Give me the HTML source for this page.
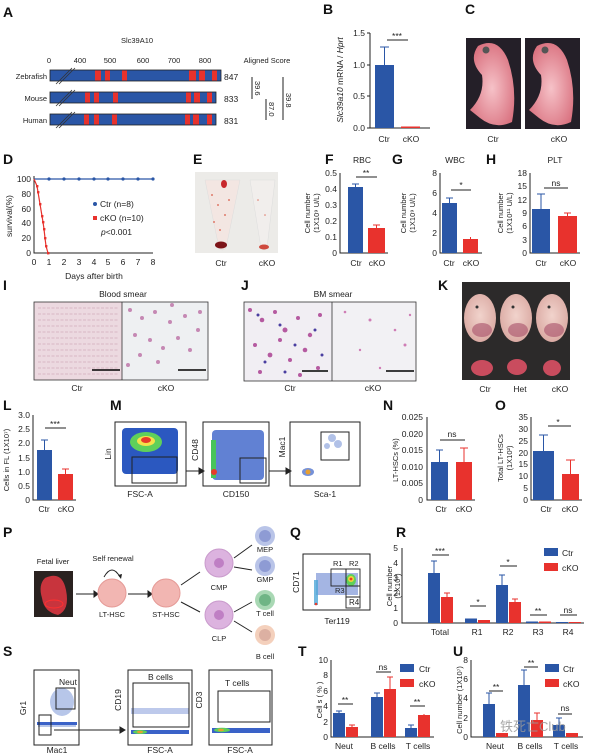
<!DOCTYPE html>
<html><head><meta charset="utf-8"><style>
html,body{margin:0;padding:0;background:#fff}
svg{display:block}
text{font-family:"Liberation Sans","Noto Sans CJK SC",sans-serif;fill:#222}
.L{font-size:14px;font-weight:bold;fill:#111}
.t{font-size:7.5px}
.s{font-size:8.5px}
.b{fill:#2a56a6}.r{fill:#e8322d}
.ax{stroke:#222;stroke-width:1;fill:none}
.eb{stroke:#2a56a6;stroke-width:1}.er{stroke:#e8322d;stroke-width:1}
</style></head><body>
<svg width="600" height="755" viewBox="0 0 600 755" xmlns="http://www.w3.org/2000/svg">
<defs>
<radialGradient id="pk" cx="50%" cy="55%" r="60%"><stop offset="0" stop-color="#f6c2c8"/><stop offset="1" stop-color="#d9707e"/></radialGradient>
<radialGradient id="emb" cx="50%" cy="45%" r="60%"><stop offset="0" stop-color="#f1d3cc"/><stop offset="1" stop-color="#d9a7a0"/></radialGradient>
</defs>

<!-- A -->
<text class="L" x="3" y="17">A</text>
<text class="t" x="137" y="43" text-anchor="middle">Slc39A10</text>
<g class="t" text-anchor="middle"><text x="49" y="63">0</text><text x="80" y="63">400</text><text x="110" y="63">500</text><text x="143" y="63">600</text><text x="174" y="63">700</text><text x="205" y="63">800</text></g>
<text class="t" x="267" y="63" text-anchor="middle">Aligned Score</text>
<g stroke="#222" stroke-width="0.8">
<rect class="b" x="50" y="70" width="171" height="11"/>
<rect class="b" x="50" y="92" width="166" height="11"/>
<rect class="b" x="50" y="114" width="166" height="11"/>
</g>
<g class="r">
<rect x="95" y="70.5" width="6" height="10"/><rect x="105" y="70.5" width="5" height="10"/><rect x="122" y="70.5" width="5" height="10"/><rect x="189" y="70.5" width="7" height="10"/><rect x="199" y="70.5" width="6" height="10"/><rect x="212" y="70.5" width="5" height="10"/>
<rect x="85" y="92.5" width="5" height="10"/><rect x="94" y="92.5" width="5" height="10"/><rect x="113" y="92.5" width="5" height="10"/><rect x="186" y="92.5" width="5" height="10"/><rect x="194" y="92.5" width="6" height="10"/><rect x="207" y="92.5" width="5" height="10"/>
<rect x="84" y="114.5" width="5" height="10"/><rect x="94" y="114.5" width="5" height="10"/><rect x="112" y="114.5" width="5" height="10"/><rect x="185" y="114.5" width="5" height="10"/><rect x="193" y="114.5" width="6" height="10"/><rect x="207" y="114.5" width="5" height="10"/>
</g>
<g stroke="#333" stroke-width="0.8"><line x1="56" y1="84" x2="72" y2="68"/><line x1="59" y1="84" x2="75" y2="68"/><line x1="56" y1="106" x2="72" y2="90"/><line x1="59" y1="106" x2="75" y2="90"/><line x1="56" y1="128" x2="72" y2="112"/><line x1="59" y1="128" x2="75" y2="112"/></g>
<g class="t" text-anchor="end"><text x="47" y="79">Zebrafish</text><text x="47" y="101">Mouse</text><text x="47" y="123">Human</text></g>
<g class="s"><text x="224" y="80">847</text><text x="224" y="102">833</text><text x="224" y="124">831</text></g>
<g stroke="#222" stroke-width="1"><line x1="252" y1="77" x2="252" y2="99"/><line x1="266" y1="99" x2="266" y2="120"/><line x1="283" y1="77" x2="283" y2="120"/></g>
<g class="t"><text transform="translate(255,81) rotate(90)">39.6</text><text transform="translate(269,102) rotate(90)">87.0</text><text transform="translate(286,93) rotate(90)">39.8</text></g>

<!-- B -->
<text class="L" x="323" y="14">B</text>
<path class="ax" d="M370,33 V128 H430"/>
<g class="ax"><line x1="367" y1="33" x2="370" y2="33"/><line x1="367" y1="65" x2="370" y2="65"/><line x1="367" y1="96" x2="370" y2="96"/><line x1="367" y1="128" x2="370" y2="128"/></g>
<g class="s" text-anchor="end"><text x="365" y="36">1.5</text><text x="365" y="68">1.0</text><text x="365" y="99">0.5</text><text x="365" y="131">0.0</text></g>
<rect class="b" x="375" y="65" width="19" height="63"/>
<line class="eb" x1="384.5" y1="65" x2="384.5" y2="47"/><line class="eb" x1="380" y1="47" x2="389" y2="47"/>
<rect class="r" x="401" y="126.5" width="19" height="1.5"/>
<line class="ax" x1="387" y1="40" x2="408" y2="40"/><text class="s" x="397" y="39" text-anchor="middle">***</text>
<g class="s" text-anchor="middle"><text x="384" y="142">Ctr</text><text x="411" y="142">cKO</text></g>
<text class="s" transform="translate(343,80) rotate(-90)" text-anchor="middle"><tspan font-style="italic">Slc39a10</tspan> mRNA / <tspan font-style="italic">Hprt</tspan></text>

<!-- C -->
<text class="L" x="465" y="14">C</text>
<rect x="466" y="38" width="55" height="91" fill="#241f28"/>
<rect x="525" y="38" width="55" height="91" fill="#241f28"/>
<path d="M478,46 Q498,36 508,60 Q518,90 512,122 Q495,130 480,118 L470,110 Q485,95 482,75 Q468,60 478,46Z" fill="url(#pk)"/>
<path d="M537,46 Q557,36 567,60 Q577,90 571,122 Q554,130 539,118 L529,110 Q544,95 541,75 Q527,60 537,46Z" fill="url(#pk)"/>
<circle cx="486" cy="50" r="3.5" fill="#555"/><circle cx="545" cy="50" r="3.5" fill="#555"/>
<g class="s" text-anchor="middle"><text x="493" y="142">Ctr</text><text x="559" y="142">cKO</text></g>

<!-- D -->
<text class="L" x="3" y="164">D</text>
<path class="ax" d="M34,176 V253 H153"/>
<g class="s" text-anchor="end"><text x="31" y="182">100</text><text x="31" y="197">80</text><text x="31" y="212">60</text><text x="31" y="226">40</text><text x="31" y="241">20</text><text x="31" y="256">0</text></g>
<g class="s" text-anchor="middle"><text x="34" y="265">0</text><text x="49" y="265">1</text><text x="64" y="265">2</text><text x="79" y="265">3</text><text x="94" y="265">4</text><text x="108" y="265">5</text><text x="123" y="265">6</text><text x="138" y="265">7</text><text x="153" y="265">8</text></g>
<text class="s" x="94" y="279" text-anchor="middle">Days after birth</text>
<text class="s" transform="translate(12,216) rotate(-90)" text-anchor="middle">survival(%)</text>
<polyline points="34,179 153,179" stroke="#2a56a6" stroke-width="1.2" fill="none"/>
<g class="b"><circle cx="49" cy="179" r="1.6"/><circle cx="64" cy="179" r="1.6"/><circle cx="79" cy="179" r="1.6"/><circle cx="94" cy="179" r="1.6"/><circle cx="108" cy="179" r="1.6"/><circle cx="123" cy="179" r="1.6"/><circle cx="138" cy="179" r="1.6"/><circle cx="153" cy="179" r="1.6"/></g>
<polyline points="34,179 37,186 38,192 40,204 42,216 43,222 44,229 45,238 46,246 48,253 49,253" stroke="#e8322d" stroke-width="1.2" fill="none"/>
<g class="r"><rect x="36" y="185" width="2.4" height="2.4"/><rect x="37" y="191" width="2.4" height="2.4"/><rect x="39" y="203" width="2.4" height="2.4"/><rect x="41" y="215" width="2.4" height="2.4"/><rect x="42" y="221" width="2.4" height="2.4"/><rect x="43" y="228" width="2.4" height="2.4"/><rect x="44" y="237" width="2.4" height="2.4"/><rect x="45" y="245" width="2.4" height="2.4"/><rect x="47" y="252" width="2.4" height="2.4"/></g>
<circle class="b" cx="95" cy="204" r="2"/><text class="s" x="100" y="207">Ctr (n=8)</text>
<rect class="r" x="93" y="216" width="4" height="4"/><text class="s" x="100" y="221">cKO (n=10)</text>
<text class="s" x="101" y="235"><tspan font-style="italic">p</tspan>&lt;0.001</text>

<!-- E -->
<text class="L" x="193" y="164">E</text>
<rect x="195" y="172" width="83" height="81" fill="#ecebe8"/>
<path d="M205,180 L240,180 L226,248 Q222,252 219,248Z" fill="#f3e6e2" stroke="#ddd" stroke-width="0.5"/>
<path d="M250,180 L275,180 L267,248 Q264,252 261,248Z" fill="#f1eeec" stroke="#ddd" stroke-width="0.5"/>
<ellipse cx="221" cy="245" rx="6" ry="3.5" fill="#7c1418"/><ellipse cx="264" cy="247" rx="5" ry="2.5" fill="#cf4a3e"/>
<ellipse cx="224" cy="184" rx="3" ry="4" fill="#c8282c"/>
<g fill="#e07a6a"><circle cx="212" cy="195" r="1"/><circle cx="218" cy="205" r="1"/><circle cx="225" cy="215" r="1"/><circle cx="214" cy="222" r="1"/><circle cx="229" cy="200" r="1"/><circle cx="220" cy="230" r="1"/><circle cx="258" cy="200" r="0.8"/><circle cx="265" cy="215" r="0.8"/></g>
<g class="s" text-anchor="middle"><text x="221" y="266">Ctr</text><text x="267" y="266">cKO</text></g>

<!-- F -->
<text class="L" x="325" y="164">F</text>
<text class="s" x="362" y="163" text-anchor="middle">RBC</text>
<path class="ax" d="M340,173 V253 H388"/>
<g class="s" text-anchor="end"><text x="337" y="176">0.5</text><text x="337" y="192">0.4</text><text x="337" y="208">0.3</text><text x="337" y="224">0.2</text><text x="337" y="240">0.1</text><text x="337" y="256">0</text></g>
<rect class="b" x="348" y="187" width="15" height="66"/><line class="eb" x1="355.5" y1="187" x2="355.5" y2="184"/><line class="eb" x1="352" y1="184" x2="359" y2="184"/>
<rect class="r" x="368" y="228" width="17" height="25"/><line class="er" x1="376.5" y1="228" x2="376.5" y2="225"/><line class="er" x1="373" y1="225" x2="380" y2="225"/>
<line class="ax" x1="356" y1="177" x2="377" y2="177"/><text class="s" x="366" y="176" text-anchor="middle">**</text>
<g class="s" text-anchor="middle"><text x="356" y="266">Ctr</text><text x="377" y="266">cKO</text></g>
<text class="t" transform="translate(310,213) rotate(-90)" text-anchor="middle">Cell number</text>
<text class="t" transform="translate(319,213) rotate(-90)" text-anchor="middle">(1X10⁹ U/L)</text>

<!-- G -->
<text class="L" x="392" y="164">G</text>
<text class="s" x="455" y="163" text-anchor="middle">WBC</text>
<path class="ax" d="M440,173 V253 H482"/>
<g class="s" text-anchor="end"><text x="437" y="176">8</text><text x="437" y="196">6</text><text x="437" y="216">4</text><text x="437" y="236">2</text><text x="437" y="256">0</text></g>
<rect class="b" x="442" y="203" width="15" height="50"/><line class="eb" x1="449.5" y1="203" x2="449.5" y2="198"/><line class="eb" x1="446" y1="198" x2="453" y2="198"/>
<rect class="r" x="463" y="239" width="15" height="14"/><line class="er" x1="470.5" y1="239" x2="470.5" y2="237"/>
<line class="ax" x1="451" y1="190" x2="471" y2="190"/><text class="s" x="461" y="188" text-anchor="middle">*</text>
<g class="s" text-anchor="middle"><text x="449" y="266">Ctr</text><text x="471" y="266">cKO</text></g>
<text class="t" transform="translate(406,213) rotate(-90)" text-anchor="middle">Cell number</text>
<text class="t" transform="translate(415,213) rotate(-90)" text-anchor="middle">(1X10⁹ U/L)</text>

<!-- H -->
<text class="L" x="486" y="164">H</text>
<text class="s" x="555" y="163" text-anchor="middle">PLT</text>
<path class="ax" d="M530,173 V253 H580"/>
<g class="s" text-anchor="end"><text x="527" y="176">18</text><text x="527" y="189">15</text><text x="527" y="203">12</text><text x="527" y="216">9</text><text x="527" y="229">6</text><text x="527" y="243">3</text><text x="527" y="256">0</text></g>
<rect class="b" x="532" y="209" width="18" height="44"/><line class="eb" x1="541" y1="209" x2="541" y2="194"/><line class="eb" x1="537" y1="194" x2="545" y2="194"/>
<rect class="r" x="558" y="216" width="19" height="37"/><line class="er" x1="567.5" y1="216" x2="567.5" y2="213"/><line class="er" x1="564" y1="213" x2="571" y2="213"/>
<line class="ax" x1="544" y1="188" x2="568" y2="188"/><text class="s" x="556" y="186" text-anchor="middle">ns</text>
<g class="s" text-anchor="middle"><text x="541" y="266">Ctr</text><text x="568" y="266">cKO</text></g>
<text class="t" transform="translate(503,213) rotate(-90)" text-anchor="middle">Cell number</text>
<text class="t" transform="translate(512,213) rotate(-90)" text-anchor="middle">(1X10¹¹ U/L)</text>

<!-- I -->
<text class="L" x="3" y="290">I</text>
<text class="s" x="123" y="297" text-anchor="middle">Blood smear</text>
<rect x="34" y="302" width="88" height="78" fill="#ecd9e0"/>
<g fill="none" stroke="#c795ad" stroke-width="0.8" opacity="0.7">
<path d="M38,308h80M38,314h80M38,320h80M38,326h80M38,332h80M38,338h80M38,344h80M38,350h80M38,356h80M38,362h80M38,368h80M38,374h80" stroke-dasharray="3 1.5"/>
</g>
<rect x="122" y="302" width="86" height="78" fill="#eef0f2"/>
<g fill="#c588b4"><circle cx="130" cy="310" r="2"/><circle cx="142" cy="318" r="2"/><circle cx="155" cy="312" r="2"/><circle cx="170" cy="322" r="2"/><circle cx="185" cy="316" r="2"/><circle cx="198" cy="330" r="2"/><circle cx="135" cy="335" r="2"/><circle cx="150" cy="340" r="2"/><circle cx="163" cy="348" r="2"/><circle cx="178" cy="338" r="2"/><circle cx="190" cy="350" r="2"/><circle cx="140" cy="355" r="2"/><circle cx="128" cy="365" r="2"/><circle cx="158" cy="362" r="2"/><circle cx="200" cy="312" r="2"/><circle cx="172" cy="305" r="2"/></g>
<rect x="34" y="302" width="174" height="78" fill="none" stroke="#333" stroke-width="0.8"/><line x1="122" y1="302" x2="122" y2="380" stroke="#333" stroke-width="0.8"/>
<line x1="92" y1="370" x2="120" y2="370" stroke="#000" stroke-width="1.5"/><line x1="178" y1="370" x2="206" y2="370" stroke="#000" stroke-width="1.5"/>
<g class="s" text-anchor="middle"><text x="77" y="391">Ctr</text><text x="166" y="391">cKO</text></g>

<!-- J -->
<text class="L" x="241" y="290">J</text>
<text class="s" x="333" y="297" text-anchor="middle">BM smear</text>
<rect x="244" y="302" width="88" height="79" fill="#f1eef3"/>
<g fill="#b55aa0"><circle cx="250" cy="310" r="2"/><circle cx="262" cy="320" r="2.3"/><circle cx="275" cy="312" r="2"/><circle cx="285" cy="330" r="2.5"/><circle cx="298" cy="318" r="2"/><circle cx="310" cy="335" r="2.2"/><circle cx="320" cy="315" r="2"/><circle cx="255" cy="345" r="2"/><circle cx="270" cy="355" r="2.4"/><circle cx="290" cy="360" r="2"/><circle cx="305" cy="350" r="2.3"/><circle cx="318" cy="368" r="2"/><circle cx="260" cy="372" r="2"/><circle cx="280" cy="340" r="2"/><circle cx="300" cy="375" r="2"/></g>
<g fill="#4a3ea0"><circle cx="258" cy="315" r="1.5"/><circle cx="280" cy="325" r="1.5"/><circle cx="295" cy="345" r="1.5"/><circle cx="315" cy="330" r="1.5"/><circle cx="265" cy="362" r="1.5"/><circle cx="285" cy="372" r="1.5"/><circle cx="322" cy="355" r="1.5"/></g>
<rect x="332" y="302" width="84" height="79" fill="#f2f1f4"/>
<g fill="#cf7db5"><circle cx="345" cy="312" r="1.3"/><circle cx="370" cy="320" r="1.5"/><circle cx="395" cy="330" r="1.3"/><circle cx="405" cy="345" r="1.5"/><circle cx="360" cy="350" r="1.2"/><circle cx="380" cy="368" r="1.2"/><circle cx="410" cy="315" r="1.2"/></g>
<rect x="244" y="302" width="172" height="79" fill="none" stroke="#333" stroke-width="0.8"/><line x1="332" y1="302" x2="332" y2="381" stroke="#333" stroke-width="0.8"/>
<line x1="302" y1="371" x2="328" y2="371" stroke="#000" stroke-width="1.5"/><line x1="386" y1="371" x2="414" y2="371" stroke="#000" stroke-width="1.5"/>
<g class="s" text-anchor="middle"><text x="290" y="391">Ctr</text><text x="373" y="391">cKO</text></g>

<!-- K -->
<text class="L" x="438" y="290">K</text>
<rect x="462" y="282" width="108" height="98" fill="#2c2a2a"/>
<g fill="url(#emb)"><ellipse cx="480" cy="318" rx="16" ry="24"/><ellipse cx="516" cy="318" rx="16" ry="24"/><ellipse cx="552" cy="318" rx="16" ry="24"/></g>
<g fill="#a8506a" opacity="0.6"><ellipse cx="482" cy="330" rx="10" ry="7"/><ellipse cx="518" cy="330" rx="10" ry="7"/><ellipse cx="554" cy="330" rx="10" ry="7"/></g>
<g fill="#333"><circle cx="477" cy="307" r="1.5"/><circle cx="513" cy="307" r="1.5"/><circle cx="549" cy="307" r="1.5"/></g>
<g fill="#c94c5e"><ellipse cx="482" cy="368" rx="11" ry="8"/><ellipse cx="517" cy="367" rx="10" ry="8"/><ellipse cx="552" cy="368" rx="9" ry="8"/></g>
<g class="s" text-anchor="middle"><text x="485" y="392">Ctr</text><text x="520" y="392">Het</text><text x="560" y="392">cKO</text></g>

<!-- L -->
<text class="L" x="3" y="410">L</text>
<path class="ax" d="M33,415 V500 H76"/>
<g class="s" text-anchor="end"><text x="30" y="418">3.0</text><text x="30" y="432">2.5</text><text x="30" y="446">2.0</text><text x="30" y="461">1.5</text><text x="30" y="475">1.0</text><text x="30" y="489">0.5</text><text x="30" y="503">0</text></g>
<rect class="b" x="37" y="450" width="15" height="50"/><line class="eb" x1="44.5" y1="450" x2="44.5" y2="440"/><line class="eb" x1="41" y1="440" x2="48" y2="440"/>
<rect class="r" x="58" y="474" width="15" height="26"/><line class="er" x1="65.5" y1="474" x2="65.5" y2="469"/><line class="er" x1="62" y1="469" x2="69" y2="469"/>
<line class="ax" x1="45" y1="428" x2="66" y2="428"/><text class="s" x="55" y="427" text-anchor="middle">***</text>
<g class="s" text-anchor="middle"><text x="44" y="512">Ctr</text><text x="66" y="512">cKO</text></g>
<text class="t" transform="translate(9,460) rotate(-90)" text-anchor="middle">Cells in FL (1X10⁷)</text>

<!-- M -->
<text class="L" x="110" y="410">M</text>
<rect x="115" y="422" width="71" height="64" fill="#fff" stroke="#222"/>
<rect x="122" y="428" width="56" height="46" fill="#2b58c0" rx="4"/>
<ellipse cx="146" cy="442" rx="16" ry="10" fill="#5fd05a"/><ellipse cx="146" cy="441" rx="9" ry="5" fill="#f5e24a"/><ellipse cx="146" cy="440" rx="5" ry="3" fill="#e83b2a"/>
<rect x="132" y="457" width="45" height="26" fill="none" stroke="#222"/>
<rect x="203" y="422" width="66" height="64" fill="#fff" stroke="#222"/>
<rect x="212" y="430" width="52" height="50" fill="#3a62c8" opacity="0.8" rx="4"/>
<rect x="211" y="440" width="5" height="38" fill="#48c45a"/><circle cx="214" cy="472" r="3" fill="#e83b2a"/>
<rect x="240" y="458" width="26" height="25" fill="none" stroke="#222"/>
<rect x="290" y="422" width="70" height="64" fill="#fff" stroke="#222"/>
<ellipse cx="308" cy="472" rx="6" ry="4" fill="#3a62c8" opacity="0.7"/><circle cx="308" cy="472" r="2.5" fill="#e8a030"/>
<g fill="#7e98d8" opacity="0.6"><circle cx="332" cy="438" r="4"/><circle cx="338" cy="444" r="4"/><circle cx="327" cy="446" r="3"/></g>
<rect x="321" y="432" width="28" height="28" fill="none" stroke="#222"/>
<g stroke="#222" fill="#222"><line x1="186" y1="471" x2="199" y2="471"/><path d="M199,468 L204,471 L199,474Z"/><line x1="269" y1="471" x2="286" y2="471"/><path d="M286,468 L291,471 L286,474Z"/></g>
<g class="s" text-anchor="middle"><text x="140" y="497">FSC-A</text><text x="236" y="497">CD150</text><text x="325" y="497">Sca-1</text></g>
<g class="s" text-anchor="middle"><text transform="translate(111,454) rotate(-90)">Lin</text><text transform="translate(198,450) rotate(-90)">CD48</text><text transform="translate(285,447) rotate(-90)">Mac1</text></g>

<!-- N -->
<text class="L" x="383" y="410">N</text>
<path class="ax" d="M427,417 V500 H475"/>
<g class="s" text-anchor="end"><text x="423" y="420">0.025</text><text x="423" y="437">0.020</text><text x="423" y="453">0.015</text><text x="423" y="470">0.010</text><text x="423" y="486">0.005</text><text x="423" y="503">0</text></g>
<rect class="b" x="431" y="462" width="17" height="38"/><line class="eb" x1="439.5" y1="462" x2="439.5" y2="450"/><line class="eb" x1="436" y1="450" x2="443" y2="450"/>
<rect class="r" x="456" y="462" width="16" height="38"/><line class="er" x1="464" y1="462" x2="464" y2="448"/><line class="er" x1="460" y1="448" x2="468" y2="448"/>
<line class="ax" x1="440" y1="440" x2="465" y2="440"/><text class="s" x="452" y="437" text-anchor="middle">ns</text>
<g class="s" text-anchor="middle"><text x="441" y="512">Ctr</text><text x="464" y="512">cKO</text></g>
<text class="t" transform="translate(398,460) rotate(-90)" text-anchor="middle">LT-HSCs (%)</text>

<!-- O -->
<text class="L" x="495" y="410">O</text>
<path class="ax" d="M531,417 V500 H582"/>
<g class="s" text-anchor="end"><text x="528" y="420">35</text><text x="528" y="432">30</text><text x="528" y="444">25</text><text x="528" y="456">20</text><text x="528" y="467">15</text><text x="528" y="479">10</text><text x="528" y="491">5</text><text x="528" y="503">0</text></g>
<rect class="b" x="533" y="451" width="21" height="49"/><line class="eb" x1="543.5" y1="451" x2="543.5" y2="435"/><line class="eb" x1="539" y1="435" x2="548" y2="435"/>
<rect class="r" x="562" y="474" width="17" height="26"/><line class="er" x1="570.5" y1="474" x2="570.5" y2="460"/><line class="er" x1="566" y1="460" x2="575" y2="460"/>
<line class="ax" x1="548" y1="426" x2="571" y2="426"/><text class="s" x="558" y="425" text-anchor="middle">*</text>
<g class="s" text-anchor="middle"><text x="546" y="512">Ctr</text><text x="570" y="512">cKO</text></g>
<text class="t" transform="translate(503,458) rotate(-90)" text-anchor="middle">Total  LT-HSCs</text>
<text class="t" transform="translate(512,458) rotate(-90)" text-anchor="middle">(1X10²)</text>

<!-- P -->
<text class="L" x="3" y="537">P</text>
<text class="t" x="53" y="564" text-anchor="middle">Fetal liver</text>
<rect x="34" y="571" width="39" height="46" fill="#2a2220"/>
<path d="M45,578 Q62,570 66,590 Q70,610 58,615 Q44,612 42,598 Q38,585 45,578Z" fill="#c8343d"/>
<ellipse cx="54" cy="604" rx="9" ry="4" fill="none" stroke="#ff3030" stroke-width="1"/>
<text class="t" x="113" y="561" text-anchor="middle">Self renewal</text>
<path d="M104,577 Q112,563 120,577" fill="none" stroke="#222"/><path d="M118,575 L121,579 L122,574Z" fill="#222"/>
<g stroke="#222" fill="#222"><line x1="76" y1="594" x2="94" y2="594"/><path d="M94,591 L98,594 L94,597Z"/><line x1="128" y1="594" x2="148" y2="594"/><path d="M148,591 L152,594 L148,597Z"/>
<line x1="181" y1="585" x2="200" y2="572"/><line x1="181" y1="602" x2="200" y2="612"/>
<line x1="234" y1="558" x2="252" y2="545"/><line x1="234" y1="567" x2="252" y2="570"/><line x1="234" y1="612" x2="252" y2="602"/><line x1="234" y1="621" x2="252" y2="632"/></g>
<circle cx="112" cy="593" r="14" fill="#f2b6b2" stroke="#e59a96"/><circle cx="166" cy="593" r="14" fill="#f2b6b2" stroke="#e59a96"/>
<circle cx="219" cy="563" r="14" fill="#dcb3df" stroke="#c99acc"/><circle cx="219" cy="563" r="5" fill="#bf7fc4"/>
<circle cx="219" cy="615" r="14" fill="#dcb3df" stroke="#c99acc"/><circle cx="219" cy="615" r="5" fill="#bf7fc4"/>
<circle cx="265" cy="536" r="10" fill="#b9c4e8"/><circle cx="265" cy="536" r="6" fill="#8e9bd4"/>
<circle cx="265" cy="566" r="10" fill="#b9c4e8"/><circle cx="265" cy="566" r="6" fill="#8e9bd4"/>
<circle cx="265" cy="600" r="10" fill="#a9d8b4"/><circle cx="265" cy="600" r="6" fill="#6fb585"/>
<circle cx="265" cy="635" r="10" fill="#f4d0bc"/><circle cx="265" cy="635" r="6" fill="#dcb0a2"/>
<g class="t" text-anchor="middle"><text x="112" y="617">LT-HSC</text><text x="166" y="617">ST-HSC</text><text x="219" y="590">CMP</text><text x="219" y="641">CLP</text><text x="265" y="552">MEP</text><text x="265" y="582">GMP</text><text x="265" y="616">T cell</text><text x="265" y="659">B cell</text></g>

<!-- Q -->
<text class="L" x="290" y="537">Q</text>
<rect x="303" y="554" width="67" height="56" fill="#fff" stroke="#222"/>
<rect x="316" y="573" width="42" height="22" fill="#5a78cc" opacity="0.55"/>
<rect x="314" y="580" width="4" height="25" fill="#4fa8d8" opacity="0.8"/>
<ellipse cx="351" cy="580" rx="5" ry="6" fill="#5fd05a"/><ellipse cx="351" cy="579" rx="3" ry="3" fill="#f1d53a"/><circle cx="351" cy="579" r="1.4" fill="#e83b2a"/>
<circle cx="316" cy="604" r="1.3" fill="#e83b2a"/>
<g fill="none" stroke="#222" stroke-width="0.9"><rect x="331" y="569" width="15" height="17"/><rect x="346" y="569" width="14" height="17"/><rect x="346" y="586" width="14" height="11"/><rect x="346" y="597" width="14" height="11"/></g>
<g class="t"><text x="333" y="566">R1</text><text x="349" y="566">R2</text><text x="335" y="593">R3</text><text x="349" y="605" font-size="8">R4</text></g>
<text class="s" x="337" y="624" text-anchor="middle">Ter119</text>
<text class="s" transform="translate(299,582) rotate(-90)" text-anchor="middle">CD71</text>

<!-- R -->
<text class="L" x="396" y="537">R</text>
<path class="ax" d="M402,548 V623 H584"/>
<g class="s" text-anchor="end"><text x="398" y="551">5</text><text x="398" y="566">4</text><text x="398" y="581">3</text><text x="398" y="596">2</text><text x="398" y="611">1</text><text x="398" y="626">0</text></g>
<rect class="b" x="428" y="573" width="12" height="50"/><line class="eb" x1="434" y1="573" x2="434" y2="561"/><line class="eb" x1="431" y1="561" x2="437" y2="561"/>
<rect class="r" x="441" y="597" width="12" height="26"/><line class="er" x1="447" y1="597" x2="447" y2="593"/><line class="er" x1="444" y1="593" x2="450" y2="593"/>
<rect class="b" x="465" y="618.5" width="12" height="4.5"/><rect class="r" x="478" y="620" width="12" height="3"/>
<rect class="b" x="496" y="585" width="12" height="38"/><line class="eb" x1="502" y1="585" x2="502" y2="575"/><line class="eb" x1="499" y1="575" x2="505" y2="575"/>
<rect class="r" x="509" y="602" width="12" height="21"/><line class="er" x1="515" y1="602" x2="515" y2="599"/><line class="er" x1="512" y1="599" x2="518" y2="599"/>
<rect class="b" x="526" y="621.5" width="12" height="1.5"/><rect class="r" x="539" y="621.5" width="12" height="1.5"/>
<rect class="b" x="556" y="622" width="12" height="1"/><rect class="r" x="569" y="622" width="12" height="1"/>
<g class="ax"><line x1="432" y1="555" x2="449" y2="555"/><line x1="470" y1="606" x2="486" y2="606"/><line x1="500" y1="566" x2="517" y2="566"/><line x1="530" y1="615" x2="547" y2="615"/><line x1="560" y1="615" x2="577" y2="615"/></g>
<g class="s" text-anchor="middle"><text x="440" y="554">***</text><text x="478" y="605">*</text><text x="508" y="565">*</text><text x="538" y="614">**</text><text x="568" y="613">ns</text></g>
<g class="s" text-anchor="middle"><text x="440" y="635">Total</text><text x="477" y="635">R1</text><text x="508" y="635">R2</text><text x="538" y="635">R3</text><text x="568" y="635">R4</text></g>
<rect class="b" x="544" y="548" width="14" height="8"/><text class="s" x="562" y="556">Ctr</text>
<rect class="r" x="544" y="563" width="14" height="8"/><text class="s" x="562" y="571">cKO</text>
<text class="t" transform="translate(392,586) rotate(-90)" text-anchor="middle">Cell number</text>
<text class="t" transform="translate(400,586) rotate(-90)" text-anchor="middle">(1X10⁷)</text>

<!-- S -->
<text class="L" x="3" y="656">S</text>
<rect x="34" y="670" width="45" height="75" fill="#fff" stroke="#222"/>
<g fill="#7e98d8" opacity="0.55"><ellipse cx="62" cy="702" rx="12" ry="14"/><rect x="38" y="722" width="38" height="5"/></g>
<rect x="37" y="722" width="40" height="3" fill="#3a62c8"/>
<rect x="56" y="688" width="19" height="21" fill="none" stroke="#222"/><rect x="39" y="715" width="12" height="20" fill="none" stroke="#222"/>
<text class="s" x="59" y="685">Neut</text>
<g stroke="#222" fill="#222"><line x1="54" y1="730" x2="120" y2="730"/><path d="M120,727 L125,730 L120,733Z"/></g>
<rect x="128" y="670" width="64" height="75" fill="#fff" stroke="#222"/>
<rect x="131" y="708" width="58" height="6" fill="#5a78cc" opacity="0.4"/>
<rect x="131" y="730" width="58" height="4" fill="#3a62c8"/><ellipse cx="140" cy="732" rx="7" ry="2" fill="#5fd05a"/><ellipse cx="140" cy="732" rx="3" ry="1.2" fill="#e8a030"/>
<rect x="133" y="683" width="56" height="44" fill="none" stroke="#222"/>
<text class="s" x="148" y="680">B cells</text>
<rect x="209" y="670" width="63" height="75" fill="#fff" stroke="#222"/>
<rect x="212" y="728" width="58" height="5" fill="#3a62c8"/><ellipse cx="222" cy="730" rx="8" ry="2.2" fill="#5fd05a"/><ellipse cx="221" cy="730" rx="3" ry="1.2" fill="#e8a030"/>
<rect x="218" y="691" width="52" height="31" fill="none" stroke="#222"/>
<text class="s" x="225" y="686">T cells</text>
<g class="s" text-anchor="middle"><text x="57" y="753">Mac1</text><text x="160" y="753">FSC-A</text><text x="240" y="753">FSC-A</text></g>
<g class="s" text-anchor="middle"><text transform="translate(26,708) rotate(-90)">Gr1</text><text transform="translate(121,700) rotate(-90)">CD19</text><text transform="translate(202,700) rotate(-90)">CD3</text></g>

<!-- T -->
<text class="L" x="298" y="656">T</text>
<path class="ax" d="M331,660 V737 H434"/>
<g class="s" text-anchor="end"><text x="328" y="663">10</text><text x="328" y="678">8</text><text x="328" y="694">6</text><text x="328" y="709">4</text><text x="328" y="725">2</text><text x="328" y="740">0</text></g>
<rect class="b" x="333" y="713" width="12" height="24"/><line class="eb" x1="339" y1="713" x2="339" y2="711"/><line class="eb" x1="336" y1="711" x2="342" y2="711"/>
<rect class="r" x="346" y="727" width="12" height="10"/><line class="er" x1="352" y1="727" x2="352" y2="725"/><line class="er" x1="349" y1="725" x2="355" y2="725"/>
<rect class="b" x="371" y="697" width="12" height="40"/><line class="eb" x1="377" y1="697" x2="377" y2="693"/><line class="eb" x1="374" y1="693" x2="380" y2="693"/>
<rect class="r" x="384" y="689" width="12" height="48"/><line class="er" x1="390" y1="689" x2="390" y2="677"/><line class="er" x1="387" y1="677" x2="393" y2="677"/>
<rect class="b" x="405" y="728" width="12" height="9"/><line class="eb" x1="411" y1="728" x2="411" y2="725"/><line class="eb" x1="408" y1="725" x2="414" y2="725"/>
<rect class="r" x="418" y="715" width="12" height="22"/><line class="er" x1="424" y1="715" x2="424" y2="714"/>
<g class="ax"><line x1="338" y1="704" x2="353" y2="704"/><line x1="376" y1="672" x2="391" y2="672"/><line x1="410" y1="706" x2="425" y2="706"/></g>
<g class="s" text-anchor="middle"><text x="345" y="703">**</text><text x="383" y="670">ns</text><text x="417" y="705">**</text></g>
<g class="s" text-anchor="middle"><text x="344" y="749">Neut</text><text x="383" y="749">B cells</text><text x="418" y="749">T cells</text></g>
<rect class="b" x="400" y="664" width="14" height="8"/><text class="s" x="419" y="672">Ctr</text>
<rect class="r" x="400" y="679" width="14" height="8"/><text class="s" x="419" y="687">cKO</text>
<text class="t" transform="translate(322,700) rotate(-90)" text-anchor="middle">Cell s ( % )</text>

<!-- U -->
<text class="L" x="453" y="656">U</text>
<path class="ax" d="M471,660 V737 H583"/>
<g class="s" text-anchor="end"><text x="468" y="663">8</text><text x="468" y="682">6</text><text x="468" y="701">4</text><text x="468" y="721">2</text><text x="468" y="740">0</text></g>
<rect class="b" x="483" y="704" width="12" height="33"/><line class="eb" x1="489" y1="704" x2="489" y2="693"/><line class="eb" x1="486" y1="693" x2="492" y2="693"/>
<rect class="r" x="496" y="733" width="12" height="4"/>
<rect class="b" x="518" y="685" width="12" height="52"/><line class="eb" x1="524" y1="685" x2="524" y2="670"/><line class="eb" x1="521" y1="670" x2="527" y2="670"/>
<rect class="r" x="531" y="720" width="12" height="17"/><line class="er" x1="537" y1="720" x2="537" y2="713"/><line class="er" x1="534" y1="713" x2="540" y2="713"/>
<rect class="b" x="553" y="725" width="12" height="12"/><line class="eb" x1="559" y1="725" x2="559" y2="718"/><line class="eb" x1="556" y1="718" x2="562" y2="718"/>
<rect class="r" x="566" y="733" width="12" height="4"/>
<g class="ax"><line x1="489" y1="691" x2="503" y2="691"/><line x1="524" y1="667" x2="538" y2="667"/><line x1="558" y1="714" x2="572" y2="714"/></g>
<g class="s" text-anchor="middle"><text x="496" y="690">**</text><text x="531" y="666">**</text><text x="565" y="711">ns</text></g>
<g class="s" text-anchor="middle"><text x="495" y="749">Neut</text><text x="530" y="749">B cells</text><text x="566" y="749">T cells</text></g>
<rect class="b" x="545" y="664" width="14" height="8"/><text class="s" x="563" y="672">Ctr</text>
<rect class="r" x="545" y="679" width="14" height="8"/><text class="s" x="563" y="687">cKO</text>
<text class="t" transform="translate(462,700) rotate(-90)" text-anchor="middle">Cell number (1X10⁷)</text>
<text x="500" y="731" font-size="13" style="fill:#9a9a9a" opacity="0.85">铁死亡Club</text>
</svg>
</body></html>
